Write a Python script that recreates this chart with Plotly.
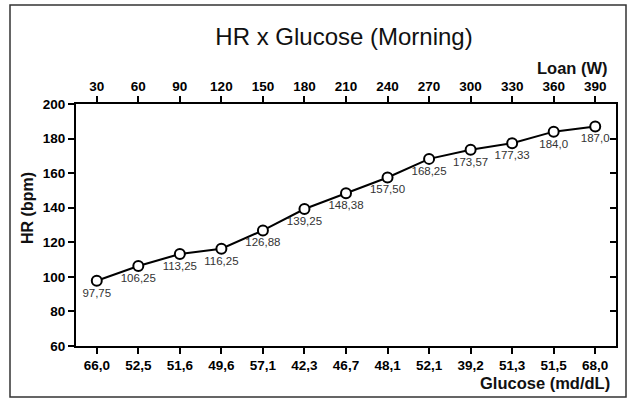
import plotly.graph_objects as go

loan = [30, 60, 90, 120, 150, 180, 210, 240, 270, 300, 330, 360, 390]
glucose = ["66,0", "52,5", "51,6", "49,6", "57,1", "42,3", "46,7", "48,1", "52,1", "39,2", "51,3", "51,5", "68,0"]
hr = [97.75, 106.25, 113.25, 116.25, 126.88, 139.25, 148.38, 157.50, 168.25, 173.57, 177.33, 184.0, 187.0]
hr_labels = ["97,75", "106,25", "113,25", "116,25", "126,88", "139,25", "148,38", "157,50",
             "168,25", "173,57", "177,33", "184,0", "187,0"]
y_ticks = [60, 80, 100, 120, 140, 160, 180, 200]

tickfont = dict(family="Liberation Sans Narrow, Arial Narrow, Liberation Sans, Arial", size=13.5, color="black")

axis_common = dict(ticklen=6, tickwidth=2, tickcolor="black", showline=True, linewidth=2,
                   linecolor="black", showgrid=False, zeroline=False, automargin=False,
                   tickfont=tickfont)

fig = go.Figure()
fig.add_trace(go.Scatter(
    x=loan, y=hr, mode="lines+markers+text",
    text=hr_labels, textposition="bottom center",
    textfont=dict(family="Liberation Sans, Arial", size=11.5, color="#333333"),
    line=dict(color="black", width=2),
    marker=dict(size=10, color="white", line=dict(color="black", width=2)),
    showlegend=False, cliponaxis=False,
))
fig.add_trace(go.Scatter(
    x=loan, y=hr, xaxis="x2", yaxis="y2", mode="markers",
    marker=dict(opacity=0), hoverinfo="skip", showlegend=False,
))

fig.update_layout(
    width=636, height=403,
    margin=dict(l=76, r=20, t=104, b=57),
    paper_bgcolor="white", plot_bgcolor="white",
    title=dict(text="HR x Glucose (Morning)", x=344 / 636, xanchor="center",
               y=1 - 37 / 403, yanchor="middle",
               font=dict(family="Liberation Sans, Arial", size=24, color="#111111")),
    xaxis=dict(range=[15, 405], tickvals=loan, ticktext=[f"<b>{g}</b>" for g in glucose],
               ticks="outside", **axis_common),
    xaxis2=dict(range=[15, 405], overlaying="x", side="top", tickvals=loan,
                ticktext=[f"<b>{v}</b>" for v in loan], ticks="outside", **axis_common),
    yaxis=dict(range=[60, 200], tickvals=y_ticks, ticktext=[f"<b>{v}</b>" for v in y_ticks],
               ticks="outside", **axis_common),
    yaxis2=dict(range=[60, 200], overlaying="y", side="right", tickvals=y_ticks,
                showticklabels=False, ticks="inside", **axis_common),
)

fig.add_annotation(text="<b>Loan (W)</b>", xref="paper", yref="paper",
                   x=(610 - 76) / 540, y=(346 - 68) / 242, xanchor="right", yanchor="middle",
                   showarrow=False, font=dict(family="Liberation Sans, Arial", size=16.5, color="#111111"))
fig.add_annotation(text="<b>Glucose (md/dL)</b>", xref="paper", yref="paper",
                   x=(612 - 76) / 540, y=(346 - 383) / 242, xanchor="right", yanchor="middle",
                   showarrow=False, font=dict(family="Liberation Sans, Arial", size=16.5, color="#111111"))
fig.add_annotation(text="<b>HR (bpm)</b>", xref="paper", yref="paper", textangle=-90,
                   x=(27 - 76) / 540, y=(346 - 208) / 242, xanchor="center", yanchor="middle",
                   showarrow=False, font=dict(family="Liberation Sans, Arial", size=16, color="#111111"))

fig.add_shape(type="rect", xref="paper", yref="paper",
              x0=(10 - 76) / 540, x1=(626 - 76) / 540,
              y0=(346 - 397) / 242, y1=(346 - 5) / 242,
              line=dict(color="#333333", width=1.5), fillcolor="rgba(0,0,0,0)", layer="below")

fig.write_html("out.html", config={"displayModeBar": False},
               post_script="document.body.style.margin='0';document.body.style.overflow='hidden';")
